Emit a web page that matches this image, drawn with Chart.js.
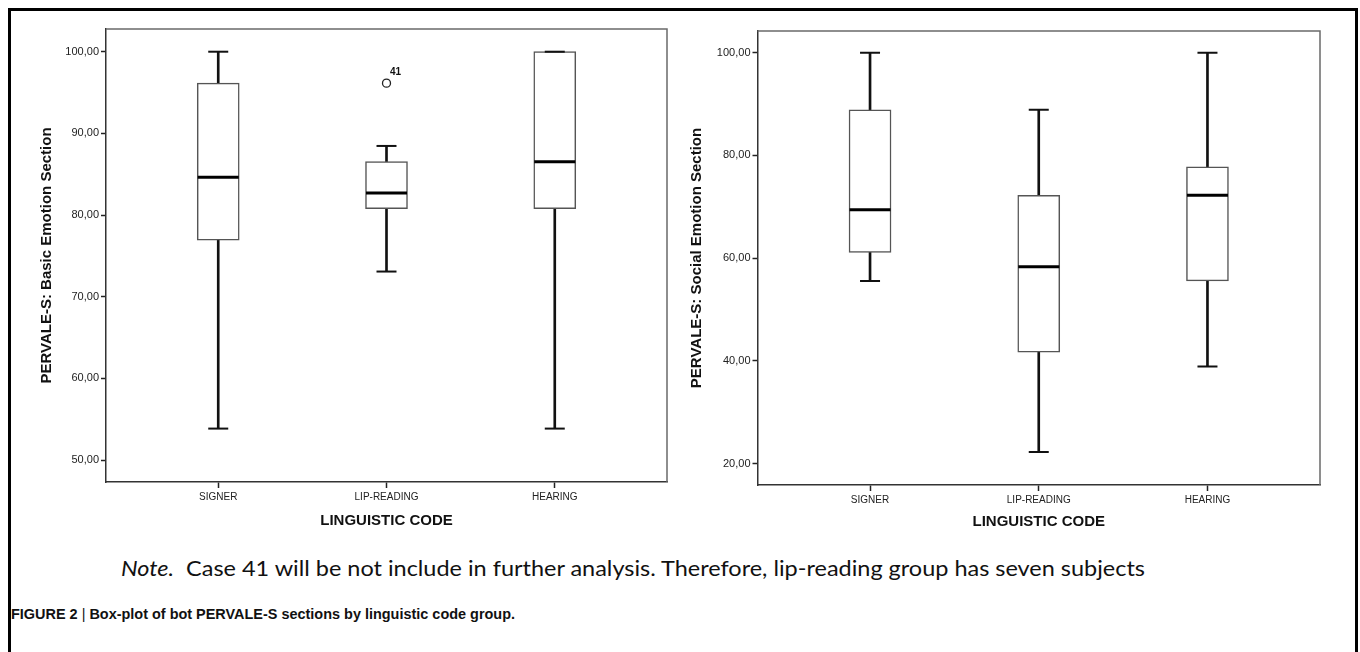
<!DOCTYPE html>
<html><head><meta charset="utf-8">
<script src="https://cdn.jsdelivr.net/npm/chart.js@4.4.0/dist/chart.umd.min.js"></script>
<style>
html,body{margin:0;padding:0;background:#fff;width:1360px;height:652px;overflow:hidden;position:relative;font-family:"Liberation Sans",Arial,sans-serif;}
#frame{position:absolute;left:8px;top:8px;width:1350px;height:720px;border:3px solid #000;box-sizing:border-box;}
canvas{position:absolute;top:0;}
#c1{left:0;} #c2{left:680px;}
#note{position:absolute;left:121px;top:555px;font-family:Lato,"Open Sans",sans-serif;font-size:21px;color:#111;white-space:nowrap;transform-origin:0 0;}
#caption{position:absolute;left:11px;top:605px;font-family:"Liberation Sans",Arial,sans-serif;font-weight:bold;font-size:15px;color:#111;white-space:nowrap;transform-origin:0 0;}
#caption .sep{font-weight:normal;}
</style></head>
<body>
<div id="frame"></div>
<canvas id="c1" width="680" height="540"></canvas>
<canvas id="c2" width="680" height="540"></canvas>
<div id="note"><i>Note.</i>&nbsp; Case 41 will be not include in further analysis. Therefore, lip-reading group has seven subjects</div>
<div id="caption">FIGURE 2 <span class="sep">|</span> Box-plot of bot PERVALE-S sections by linguistic code group.</div>
<script>
// ---- data ----
const categories = ['SIGNER', 'LIP-READING', 'HEARING'];

const basicMin    = [53.85, 73.08, 53.85];
const basicQ1     = [76.92, 80.77, 80.77];
const basicMedian = [84.62, 82.69, 86.54];
const basicQ3     = [96.15, 86.54, 100.00];
const basicMax    = [100.00, 88.46, 100.00];
const basicOutliers = [null, 96.15, null];
const basicOutlierLabels = [null, '41', null];
const basicTicks = [50, 60, 70, 80, 90, 100];
const basicTickLabels = ['50,00', '60,00', '70,00', '80,00', '90,00', '100,00'];

const socialMin    = [55.56, 22.22, 38.89];
const socialQ1     = [61.11, 41.67, 55.56];
const socialMedian = [69.44, 58.33, 72.22];
const socialQ3     = [88.89, 72.22, 77.78];
const socialMax    = [100.00, 88.89, 100.00];
const socialOutliers = [null, null, null];
const socialOutlierLabels = [null, null, null];
const socialTicks = [20, 40, 60, 80, 100];
const socialTickLabels = ['20,00', '40,00', '60,00', '80,00', '100,00'];

const xTitle = 'LINGUISTIC CODE';
const basicTitle = 'PERVALE-S: Basic Emotion Section';
const socialTitle = 'PERVALE-S: Social Emotion Section';

// ---- plugins ----
const framePlugin = {
  id: 'frameTopRight',
  beforeDatasetsDraw(chart) {
    const {ctx, chartArea: a} = chart;
    ctx.save();
    ctx.strokeStyle = '#6a6a6a';
    ctx.lineWidth = 1.5;
    ctx.beginPath();
    ctx.moveTo(a.left, a.top);
    ctx.lineTo(a.right, a.top);
    ctx.lineTo(a.right, a.bottom);
    ctx.stroke();
    ctx.restore();
  }
};
const pointLabelPlugin = {
  id: 'pointLabels',
  afterDatasetsDraw(chart) {
    const ctx = chart.ctx;
    chart.data.datasets.forEach((d, di) => {
      if (!d.pointLabels) return;
      const meta = chart.getDatasetMeta(di);
      meta.data.forEach((pt, j) => {
        const lab = d.pointLabels[j];
        if (!lab) return;
        ctx.save();
        ctx.fillStyle = '#111';
        ctx.font = 'bold 10px "Liberation Sans", Arial, sans-serif';
        ctx.textAlign = 'center';
        ctx.textBaseline = 'middle';
        ctx.fillText(lab, pt.x + 9, pt.y - 11);
        ctx.restore();
      });
    });
  }
};

function makeBoxChart(id, s, L) {
  const idx = categories.map((c, i) => i);
  const outPts = [], outLabs = [];
  s.out.forEach((v, i) => { if (v != null) { outPts.push({x: i, y: v}); outLabs.push(s.outLab[i]); } });
  const datasets = [
    {type: 'bar', label: 'lower whisker', data: idx.map(i => ({x: i, y: [s.min[i], s.q1[i]]})),
     backgroundColor: '#111', borderWidth: 0, barThickness: 2, grouped: false, order: 3},
    {type: 'bar', label: 'upper whisker', data: idx.map(i => ({x: i, y: [s.q3[i], s.max[i]]})),
     backgroundColor: '#111', borderWidth: 0, barThickness: 2, grouped: false, order: 3},
    {type: 'bar', label: 'box', data: idx.map(i => ({x: i, y: [s.q1[i], s.q3[i]]})),
     backgroundColor: '#ffffff', borderColor: '#555', borderWidth: 1.5, borderSkipped: false,
     barThickness: 42, grouped: false, order: 2},
    {type: 'line', label: 'min cap', data: idx.map(i => ({x: i, y: s.min[i]})), showLine: false,
     pointStyle: 'line', pointRadius: 10, pointBorderWidth: 2, borderColor: '#111', order: 1},
    {type: 'line', label: 'max cap', data: idx.map(i => ({x: i, y: s.max[i]})), showLine: false,
     pointStyle: 'line', pointRadius: 10, pointBorderWidth: 2, borderColor: '#111', order: 1},
    {type: 'line', label: 'median', data: idx.map(i => ({x: i, y: s.med[i]})), showLine: false,
     pointStyle: 'line', pointRadius: 20.5, pointBorderWidth: 3, borderColor: '#000', order: 0},
    {type: 'line', label: 'outliers', data: outPts, pointLabels: outLabs, showLine: false,
     pointStyle: 'circle', pointRadius: 4, pointBorderWidth: 1.3, borderColor: '#222',
     backgroundColor: '#fff', pointBackgroundColor: '#fff', order: 0}
  ];
  const tickFontY = {size: 11, family: '"Liberation Sans", Arial, sans-serif'};
  const tickFontX = {size: 10, family: '"Liberation Sans", Arial, sans-serif'};
  const titleFont = {size: 15, weight: 'bold', family: '"Liberation Sans", Arial, sans-serif'};
  return new Chart(document.getElementById(id), {
    type: 'bar',
    data: {datasets},
    options: {
      responsive: false, animation: false, events: [],
      layout: {autoPadding: false, padding: {left: 0, top: L.top, right: L.right, bottom: 0}},
      plugins: {legend: {display: false}, tooltip: {enabled: false}, title: {display: false}},
      scales: {
        x: {
          type: 'linear', min: -0.667, max: 2.667, offset: false,
          afterBuildTicks: ax => { ax.ticks = categories.map((c, i) => ({value: i})); },
          afterFit: ax => { ax.height = L.xh; ax.paddingLeft = 0; ax.paddingRight = 0; },
          grid: {offset: false, drawOnChartArea: false, drawTicks: true, tickLength: 6, tickColor: '#222', tickWidth: 1.5},
          border: {display: true, color: '#333', width: 1.5},
          ticks: {color: '#222', font: tickFontX, padding: 3, autoSkip: false, maxRotation: 0,
                  callback: (v, i) => categories[i]},
          title: {display: true, text: xTitle, color: '#111', font: titleFont, padding: {top: 0, bottom: L.xtp}}
        },
        y: {
          type: 'linear', min: L.ymin, max: L.ymax,
          afterBuildTicks: ax => { ax.ticks = s.ticks.map(v => ({value: v})); },
          afterFit: ax => { ax.width = L.yw; ax.paddingTop = 0; ax.paddingBottom = 0; },
          grid: {drawOnChartArea: false, drawTicks: true, tickLength: 5, tickColor: '#222', tickWidth: 1.5},
          border: {display: true, color: '#333', width: 1.5},
          ticks: {color: '#222', font: tickFontY, padding: 2, callback: (v, i) => s.tickLabels[i]},
          title: {display: true, text: s.title, color: '#111', font: titleFont, padding: {top: L.ytp, bottom: 0}}
        }
      }
    },
    plugins: [framePlugin, pointLabelPlugin]
  });
}

makeBoxChart('c1', {min: basicMin, q1: basicQ1, med: basicMedian, q3: basicQ3, max: basicMax,
  out: basicOutliers, outLab: basicOutlierLabels, ticks: basicTicks, tickLabels: basicTickLabels, title: basicTitle},
  {top: 29, right: 13, xh: 58, yw: 106, ymin: 47.31, ymax: 102.78, ytp: 37.5, xtp: 10});
makeBoxChart('c2', {min: socialMin, q1: socialQ1, med: socialMedian, q3: socialQ3, max: socialMax,
  out: socialOutliers, outLab: socialOutlierLabels, ticks: socialTicks, tickLabels: socialTickLabels, title: socialTitle},
  {top: 31, right: 40, xh: 55, yw: 77.5, ymin: 15.81, ymax: 104.23, ytp: 8, xtp: 9});

function fitWidth(id, target) {
  const el = document.getElementById(id);
  const w = el.getBoundingClientRect().width;
  if (w > 0) el.style.transform = 'scaleX(' + (target / w) + ')';
}
fitWidth('note', 1024);
fitWidth('caption', 504);
</script>
</body></html>
